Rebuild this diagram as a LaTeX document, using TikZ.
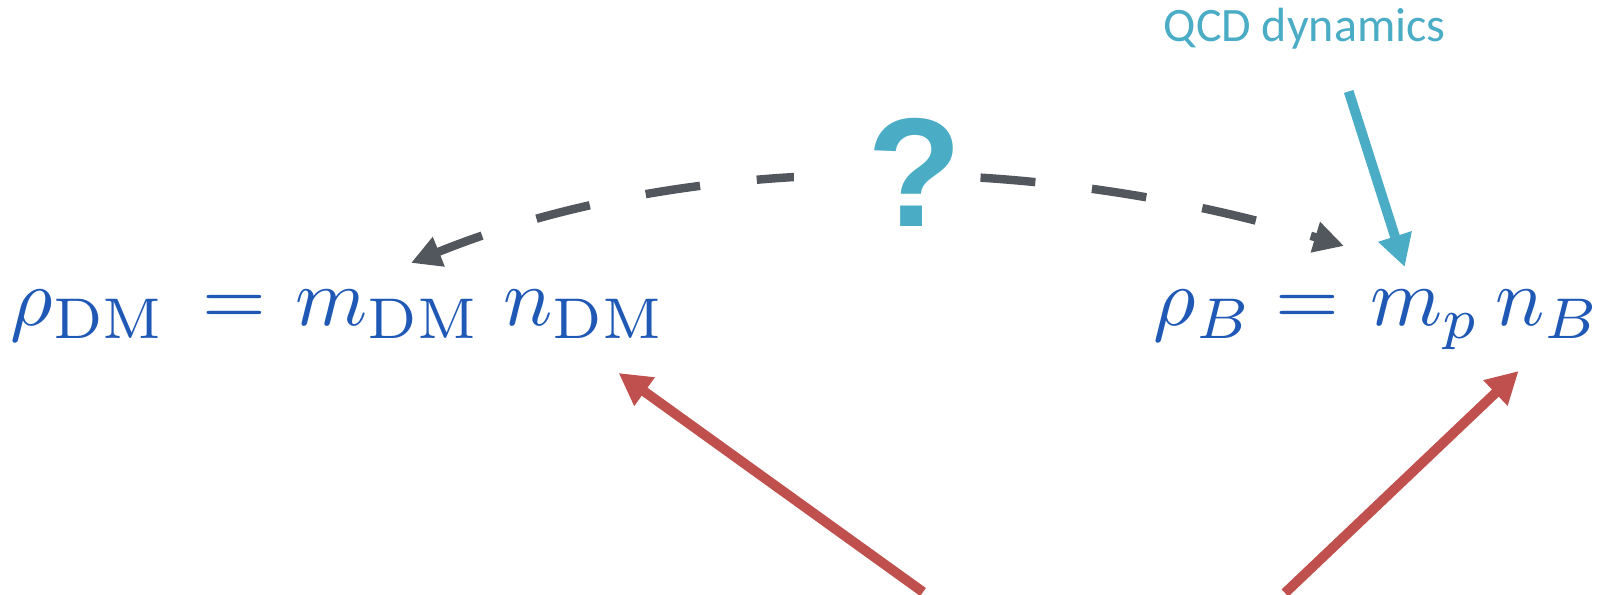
\documentclass[tikz,border=0pt]{standalone}
\usepackage{graphicx}
\usepackage[no-math]{fontspec}
\newfontfamily\calibrifont{Carlito}
\newfontfamily\arialfont{Liberation Sans}
\usetikzlibrary{arrows.meta}
\newcommand{\bigmath}[1]{\scalebox{2.335}{$#1$}}

\begin{document}
\begin{tikzpicture}[
    formula/.style={anchor=base west,inner sep=0pt,text=eqblue},
    pointer/.style={line width=2.8pt,-{Triangle[length=3.2mm,width=3.3mm]}},
  ]
  \definecolor{eqblue}{HTML}{1F59B5}
  \definecolor{qcdblue}{HTML}{4BACC6}
  \definecolor{slate}{HTML}{52565D}
  \definecolor{brick}{HTML}{C0504D}
  \fill[white] (0,0) rectangle (16.05,5.95);
  \useasboundingbox (0,0) rectangle (16.05,5.95);
  % Dark matter density on the left, baryon density on the right.
  \node[formula] (rhoDM) at (0.10,2.69) {\bigmath{\rho_{\mathrm{DM}}\mkern3mu = {}}};
  \node[formula] (mDM) at (2.95,2.69) {\bigmath{m_{\mathrm{DM}}}};
  \node[formula] (nDM) at (5.03,2.69) {\bigmath{n_{\mathrm{DM}}}};
  \node[formula] (rhoB) at (11.53,2.69) {\bigmath{\rho_{B} = {}}};
  \node[formula] (mp) at (13.70,2.69) {\bigmath{m_{p}}};
  \node[formula] (nB) at (14.95,2.69) {\bigmath{n_{B}}};
  % The open question: how the two masses are related.
  \draw[slate,line width=2.4pt,dash pattern=on 5.5mm off 5.7mm,dash phase=0.7mm,
        {Triangle[length=3mm,width=3mm]}-{Triangle[length=3mm,width=3mm]}]
    ([xshift=2.3mm,yshift=2.7mm]mDM.north) to[out=22,in=163,looseness=0.85]
    ([xshift=-2.6mm,yshift=4.4mm]mp.north west);
  \node[fill=white,text=qcdblue,font=\arialfont\bfseries\fontsize{44.1}{50}\selectfont,
        anchor=base east,inner xsep=0.9mm,inner ysep=1mm,text width=15.9mm,align=right]
    (qmark) at (9.72,3.68) {?};
  % The proton mass is fixed by QCD.
  \node[anchor=base west,inner sep=0pt,text=qcdblue,font=\calibrifont\fontsize{13.66}{16}\selectfont]
    (qcd) at (11.63,5.53) {QCD dynamics};
  \draw[pointer,qcdblue] ([xshift=4.4mm,yshift=-4.1mm]qcd.south) -- ([xshift=-2.1mm,yshift=2.3mm]mp.north);
  % Number densities, from below.
  \coordinate (fromleft) at (9.23,0.03);
  \coordinate (fromright) at (12.85,0.02);
  \draw[pointer,brick] (fromleft) -- ([xshift=3.4mm,yshift=-3.4mm]nDM.south);
  \draw[pointer,brick] (fromright) -- ([xshift=-3.0mm,yshift=-3.2mm]nB.south);
\end{tikzpicture}
\end{document}
